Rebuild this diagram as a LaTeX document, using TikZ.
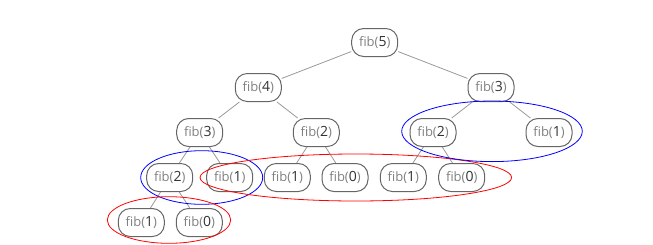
\documentclass[tikz,border=0pt]{standalone}
\usepackage{fontspec}
\setmainfont{Open Sans}
\newcommand{\dg}[1]{{\color{black!80}\fontsize{14}{14}\selectfont #1}}
\begin{document}
\begin{tikzpicture}[x=1pt,y=-1pt,
  fibnode/.style={draw=black!60, line width=1pt, rounded corners=12pt,
    minimum width=46pt, minimum height=28pt, inner sep=1pt,
    text=black!50, font=\fontsize{13}{14}\selectfont},
  link/.style={draw=black!40, line width=0.8pt},
  blueoval/.style={draw=blue, line width=0.8pt},
  redoval/.style={draw=red, line width=0.8pt}]
\useasboundingbox (0,0) rectangle (653,244);
% level 0
\node[fibnode] (n5) at (374.7,42.5) {fib(\dg{5})};
% level 1
\node[fibnode] (n4) at (258.3,87.5) {fib(\dg{4})};
\node[fibnode] (n3r) at (491,87.5) {fib(\dg{3})};
% level 2
\node[fibnode] (n3l) at (199.7,132.5) {fib(\dg{3})};
\node[fibnode] (n2a) at (316.3,132.5) {fib(\dg{2})};
\node[fibnode] (n2b) at (433,132.5) {fib(\dg{2})};
\node[fibnode] (n1a) at (549,132.5) {fib(\dg{1})};
% level 3
\node[fibnode] (n2c) at (169.7,177.5) {fib(\dg{2})};
\node[fibnode] (n1b) at (229.7,177.5) {fib(\dg{1})};
\node[fibnode] (n1c) at (287.3,177.5) {fib(\dg{1})};
\node[fibnode] (n0a) at (345,177.5) {fib(\dg{0})};
\node[fibnode] (n1d) at (403.3,177.5) {fib(\dg{1})};
\node[fibnode] (n0b) at (461.7,177.5) {fib(\dg{0})};
% level 4
\node[fibnode] (n1e) at (141.3,222.5) {fib(\dg{1})};
\node[fibnode] (n0c) at (199.3,222.5) {fib(\dg{0})};
% links
\draw[link] (n5) -- (n4);
\draw[link] (n5) -- (n3r);
\draw[link] (n4) -- (n3l);
\draw[link] (n4) -- (n2a);
\draw[link] (n3r) -- (n2b);
\draw[link] (n3r) -- (n1a);
\draw[link] (n3l) -- (n2c);
\draw[link] (n3l) -- (n1b);
\draw[link] (n2a) -- (n1c);
\draw[link] (n2a) -- (n0a);
\draw[link] (n2b) -- (n1d);
\draw[link] (n2b) -- (n0b);
\draw[link] (n2c) -- (n1e);
\draw[link] (n2c) -- (n0c);
% ovals
\draw[blueoval] (201.7,177.5) ellipse [x radius=61, y radius=26.8];
\draw[redoval] (169,220) ellipse [x radius=61.7, y radius=23.3];
\draw[redoval] (355.8,177.5) ellipse [x radius=155.8, y radius=23.5];
\draw[blueoval] (492,131.3) ellipse [x radius=90.3, y radius=30.3];
\end{tikzpicture}
\end{document}
